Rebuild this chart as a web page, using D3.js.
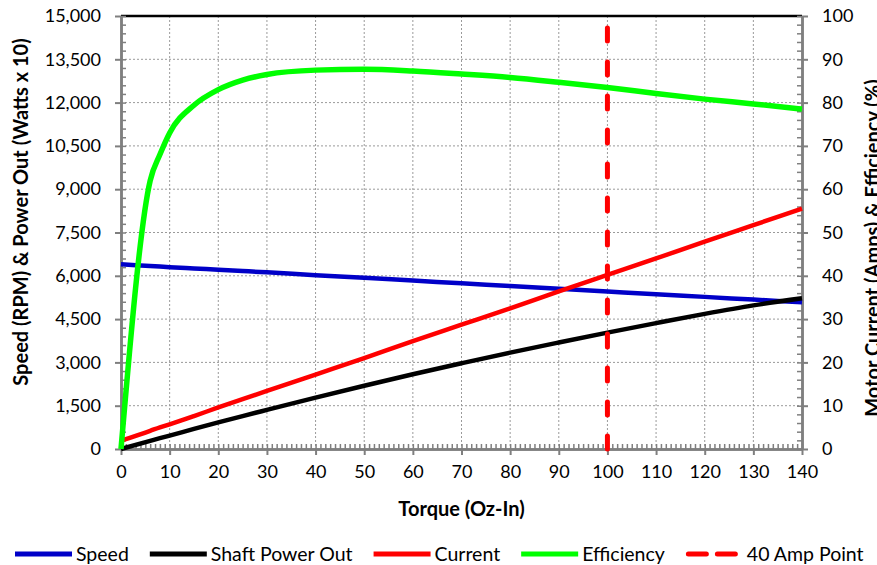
<!DOCTYPE html>
<html lang="en">
<head>
    <meta charset="UTF-8">
    <title>Motor performance</title>
    <style>
        body { margin: 0; background: #fff; }
        #chart { font-family: Lato, "Open Sans", sans-serif; }
        .grid line { stroke: #9a9a9a; stroke-width: 1; stroke-dasharray: 2,2; }
        .axis path, .axis line { stroke: #7f7f7f; }
        .axis path { stroke-width: 2.5px; }
        .axis text { font-family: Lato, sans-serif; font-size: 18px; fill: #000; }
        .line { fill: none; stroke-linejoin: round; }
        .title { font-family: Lato, sans-serif; font-size: 20px; font-weight: bold; }
        .legend text { font-family: Lato, sans-serif; font-size: 19.5px; }
    </style>
    <script src="https://d3js.org/d3.v7.min.js"></script>
</head>
<body>
    <div id="chart"></div>
    <script>
        // Values
        const torque     = [0, 6, 8, 10, 15, 20, 25, 30, 40, 50, 60, 70, 80, 90, 100, 110, 120, 130, 140];
        const speed      = [6400, 6340, 6320, 6300, 6255, 6210, 6165, 6120, 6020, 5930, 5835, 5740, 5645, 5550, 5455, 5360, 5270, 5175, 5080];
        const powerOut   = [0, 280, 375, 465, 695, 920, 1140, 1355, 1780, 2190, 2590, 2970, 3340, 3690, 4030, 4360, 4680, 4975, 5220];
        const current    = [1.9, 4.2, 5.0, 5.7, 7.6, 9.6, 11.5, 13.4, 17.2, 21.0, 24.9, 28.7, 32.5, 36.4, 40.2, 44.0, 47.9, 51.7, 55.5];
        const efficiency = [0, 62, 68, 73, 79.4, 83, 85.2, 86.5, 87.5, 87.7, 87.3, 86.6, 85.8, 84.7, 83.5, 82.1, 80.8, 79.7, 78.5];
        const ampPointTorque = 100;
        const ampPointRange = [0, 100];

        const xTicks = d3.range(0, 141, 10);
        const yLeftTicks = d3.range(0, 15001, 1500);
        const yRightTicks = d3.range(0, 101, 10);

        const legendNames = ["Speed", "Shaft Power Out", "Current", "Efficiency", "40 Amp Point"];

        const margin = { top: 16, right: 75, bottom: 116, left: 121 };
        const width = 877 - margin.left - margin.right;
        const height = 565 - margin.top - margin.bottom;

        const svg = d3.select("#chart")
            .append("svg")
            .attr("width", 877)
            .attr("height", 565);

        const g = svg.append("g")
            .attr("transform", `translate(${margin.left},${margin.top})`);

        const x = d3.scaleLinear().domain([0, 140]).range([0, width]);
        const yL = d3.scaleLinear().domain([0, 15000]).range([height, 0]);
        const yR = d3.scaleLinear().domain([0, 100]).range([height, 0]);

        // gridlines
        g.append("g").attr("class", "grid")
            .selectAll("line").data(xTicks.slice(1, -1)).enter().append("line")
            .attr("x1", d => x(d)).attr("x2", d => x(d))
            .attr("y1", 0).attr("y2", height);
        g.append("g").attr("class", "grid")
            .selectAll("line").data(yLeftTicks.slice(1, -1)).enter().append("line")
            .attr("x1", 0).attr("x2", width)
            .attr("y1", d => yL(d)).attr("y2", d => yL(d));

        // top border of plot area
        g.append("line")
            .attr("x1", 0).attr("x2", width).attr("y1", 0).attr("y2", 0)
            .attr("stroke", "#000").attr("stroke-width", 2.5);

        // minor ticks (inside)
        g.append("g").attr("class", "axis minor")
            .attr("transform", `translate(0,${height})`)
            .call(d3.axisBottom(x).tickValues(d3.range(0, 141, 1)).tickSizeInner(-5).tickSizeOuter(0).tickFormat(""));
        g.append("g").attr("class", "axis minor")
            .call(d3.axisLeft(yL).tickValues(d3.range(0, 15001, 300)).tickSizeInner(-5).tickSizeOuter(0).tickFormat(""));
        g.append("g").attr("class", "axis minor")
            .attr("transform", `translate(${width},0)`)
            .call(d3.axisRight(yR).tickValues(d3.range(0, 101, 2)).tickSizeInner(-5).tickSizeOuter(0).tickFormat(""));
        g.selectAll(".minor line").attr("stroke-width", 1.5);

        // major axes
        g.append("g").attr("class", "axis")
            .attr("transform", `translate(0,${height})`)
            .call(d3.axisBottom(x).tickValues(xTicks).tickSize(6).tickSizeOuter(0).tickPadding(10))
            .selectAll("line").attr("stroke-width", 2);
        g.append("g").attr("class", "axis")
            .call(d3.axisLeft(yL).tickValues(yLeftTicks).tickSize(6).tickSizeOuter(0).tickPadding(14).tickFormat(d3.format(",")))
            .selectAll("line").attr("stroke-width", 2);
        g.append("g").attr("class", "axis")
            .attr("transform", `translate(${width},0)`)
            .call(d3.axisRight(yR).tickValues(yRightTicks).tickSize(6).tickSizeOuter(0).tickPadding(14))
            .selectAll("line").attr("stroke-width", 2);
        g.selectAll(".axis .domain").attr("stroke-width", 2.5);

        // series
        const pts = arr => torque.map((t, i) => [t, arr[i]]);
        const lineL = d3.line().x(d => x(d[0])).y(d => yL(d[1])).curve(d3.curveMonotoneX);
        const lineR = d3.line().x(d => x(d[0])).y(d => yR(d[1])).curve(d3.curveMonotoneX);

        g.append("path").attr("class", "line").attr("d", lineL(pts(speed)))
            .attr("stroke", "#0000c8").attr("stroke-width", 4.5);
        g.append("path").attr("class", "line").attr("d", lineL(pts(powerOut)))
            .attr("stroke", "#000").attr("stroke-width", 4.5);
        g.append("path").attr("class", "line").attr("d", lineR(pts(current)))
            .attr("stroke", "#ff0000").attr("stroke-width", 4.5);
        g.append("path").attr("class", "line").attr("d", lineR(pts(efficiency)))
            .attr("stroke", "#00ff00").attr("stroke-width", 5.5);
        g.append("path").attr("class", "line")
            .attr("d", lineR(ampPointRange.map(v => [ampPointTorque, v])))
            .attr("stroke", "#ff0000").attr("stroke-width", 5)
            .attr("stroke-linecap", "round").attr("stroke-dasharray", "13,21");

        // axis titles
        svg.append("text").attr("class", "title")
            .attr("x", margin.left + width / 2).attr("y", 516)
            .attr("text-anchor", "middle").text("Torque (Oz-In)");
        svg.append("text").attr("class", "title")
            .attr("transform", "translate(28,212) rotate(-90)")
            .attr("text-anchor", "middle").text("Speed (RPM) & Power Out (Watts x 10)");
        svg.append("text").attr("class", "title")
            .attr("transform", "translate(880,248) rotate(-90)")
            .attr("text-anchor", "middle").text("Motor Current (Amps) & Efficiency (%)");

        // legend
        const legendColors = ["#0000c8", "#000", "#ff0000", "#00ff00", "#ff0000"];
        let lx = 15;
        legendNames.forEach((name, i) => {
            const item = svg.append("g").attr("class", "legend");
            const dashed = i === 4;
            item.append("line")
                .attr("x1", dashed ? lx + 2.5 : lx).attr("x2", dashed ? lx + 54.5 : lx + 57)
                .attr("y1", 554).attr("y2", 554)
                .attr("stroke", legendColors[i]).attr("stroke-width", 5)
                .attr("stroke-linecap", dashed ? "round" : "butt")
                .attr("stroke-dasharray", dashed ? "18,11" : null);
            const t = item.append("text")
                .attr("x", lx + 61).attr("y", 561)
                .text(name);
            lx += 61 + t.node().getComputedTextLength() + 21;
        });
    </script>
</body>
</html>
